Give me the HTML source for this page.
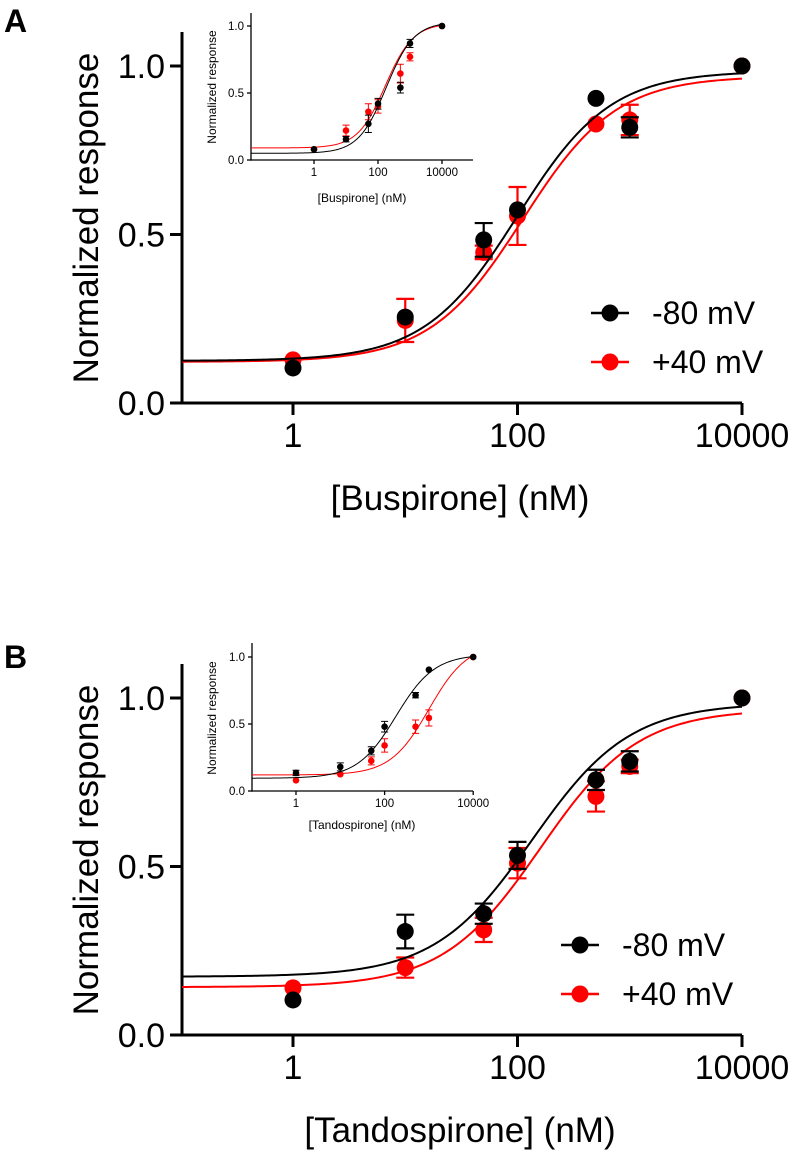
<!DOCTYPE html>
<html><head><meta charset="utf-8"><style>
body{margin:0;background:#fff}
svg text{font-family:"Liberation Sans",Arial,sans-serif}
</style></head><body>
<svg id="fig" width="790" height="1152" viewBox="0 0 790 1152" xmlns="http://www.w3.org/2000/svg">
<text x="4" y="32" font-size="32" font-weight="bold">A</text>
<text x="4" y="668" font-size="32" font-weight="bold">B</text>
</svg>
<script>
const conc = [1, 10, 50, 100, 500, 1000, 10000];
const xTickLabels = ["1", "100", "10000"];
const yTickLabels = ["0.0", "0.5", "1.0"];
// Panel A main
const aBlack = [0.104, 0.255, 0.484, 0.573, 0.904, 0.818, 1.0];
const aBlackErr = [0, 0, 0.05, 0, 0, 0.03, 0];
const aRed = [0.128, 0.245, 0.447, 0.555, 0.828, 0.84, 1.0];
const aRedErr = [0, 0.064, 0.02, 0.086, 0, 0.045, 0];
const aBlackFit = [0.125, 0.985, 100, 1.05];
const aRedFit = [0.122, 0.97, 112, 1.05];
// Panel A inset
const aiBlack = [0.08, 0.155, 0.27, 0.42, 0.54, 0.87, 1.0];
const aiBlackErr = [0, 0.02, 0.065, 0.04, 0.04, 0.03, 0];
const aiRed = [0.08, 0.22, 0.36, 0.40, 0.645, 0.77, 1.0];
const aiRedErr = [0, 0.04, 0.06, 0.05, 0.07, 0.03, 0];
const aiBlackFit = [0.05, 1.03, 180, 1];
const aiRedFit = [0.09, 1.02, 170, 1];
// Panel B main
const bBlack = [0.104, 0.307, 0.36, 0.533, 0.757, 0.812, 1.0];
const bBlackErr = [0, 0.05, 0.03, 0.04, 0.03, 0.03, 0];
const bRed = [0.14, 0.2, 0.312, 0.51, 0.708, 0.797, 1.0];
const bRedErr = [0, 0.03, 0.036, 0.045, 0.045, 0.02, 0];
const bBlackFit = [0.173, 0.985, 135, 1];
const bRedFit = [0.142, 0.967, 160, 1];
// Panel B inset
const biBlack = [0.135, 0.18, 0.30, 0.48, 0.715, 0.905, 1.0];
const biBlackErr = [0.02, 0.03, 0.03, 0.04, 0.02, 0, 0];
const biRed = [0.08, 0.125, 0.225, 0.34, 0.48, 0.545, 1.0];
const biRedErr = [0, 0, 0.03, 0.05, 0.05, 0.06, 0];
const biBlackFit = [0.095, 1.02, 180, 1];
const biRedFit = [0.12, 1.1, 1000, 1];
const tickVals = [0, 2, 4];
const yVals = [0, 0.5, 1];

const NS = "http://www.w3.org/2000/svg";
const svg = document.getElementById('fig');
function mk(tag, attrs, parent, txt){
  const e = document.createElementNS(NS, tag);
  for (const k in attrs) e.setAttribute(k, attrs[k]);
  if (txt !== undefined) e.textContent = txt;
  (parent || svg).appendChild(e);
  return e;
}
function panel(o){
  const g = mk('g', {});
  
  
  const X = v => o.x1 + (Math.log10(v)) * o.dec;
  const XL = l => o.x1 + l * o.dec;
  const Y = v => o.y0 - v * (o.y0 - o.y1);
  const s = o.sc;
  const ya = mk('line', {x1:o.left, y1:o.top, x2:o.left, y2:o.y0 + s.lw/2, stroke:'#000', 'stroke-width':s.lw}, g);
  
  
  const xa = mk('line', {x1:o.left - s.lw/2, y1:o.y0, x2:o.right, y2:o.y0, stroke:'#000', 'stroke-width':s.lw}, g);
  
  
  yVals.forEach((v, i) => {
    mk('line', {x1:o.left - s.tick, y1:Y(v), x2:o.left, y2:Y(v), stroke:'#000', 'stroke-width':s.lw}, g);
    const t = mk('text', {x:o.left - s.tick - s.gap, y:Y(v) + s.tf*0.36, 'font-size':s.tf, 'text-anchor':'end'}, g, yTickLabels[i]);
    
    
  });
  tickVals.forEach((l, i) => {
    mk('line', {x1:XL(l), y1:o.y0, x2:XL(l), y2:o.y0 + s.tick, stroke:'#000', 'stroke-width':s.lw}, g);
    const t = mk('text', {x:XL(l), y:o.y0 + s.tick + s.gap + s.tf*0.8, 'font-size':s.tf, 'text-anchor':'middle'}, g, xTickLabels[i]);
    
    
  });
  const xt = mk('text', {x:o.xtx, y:o.xty, 'font-size':s.af, 'text-anchor':'middle'}, g, o.xtitle);
  
  
  const yt = mk('text', {x:0, y:0, 'font-size':s.af, 'text-anchor':'middle', transform:`translate(${o.ytx},${o.yty}) rotate(-90)`}, g, 'Normalized response');
  
  
  const drawOrder = o.series.slice().reverse();
  drawOrder.forEach(sr => {
    const [b, t, e, h] = sr.fit;
    let d = '';
    const lmin = (o.left - o.x1) / o.dec, lmax = 4;
    for (let k = 0; k <= 200; k++){
      const l = lmin + (lmax - lmin) * k / 200;
      const c = Math.pow(10, l);
      const yv = b + (t - b) / (1 + Math.pow(e / c, h));
      d += (k ? 'L' : 'M') + X(c).toFixed(2) + ',' + Y(yv).toFixed(2);
    }
    const p = mk('path', {d:d, fill:'none', stroke:sr.color, 'stroke-width':s.cw}, g);
    
    
    conc.forEach((c, i) => {
      const cx = X(c), cy = Y(sr.vals[i]), er = sr.err[i];
      if (er > 0){
        const eb = mk('path', {d:`M${cx},${Y(sr.vals[i]+er)}L${cx},${Y(sr.vals[i]-er)}M${cx-s.cap},${Y(sr.vals[i]+er)}h${2*s.cap}M${cx-s.cap},${Y(sr.vals[i]-er)}h${2*s.cap}`, stroke:sr.color, 'stroke-width':s.ew, fill:'none'}, g);
        
        
      }
      const m = mk('circle', {cx:cx, cy:cy, r:s.r, fill:sr.color}, g);
      
      
    });
  });
  if (o.legend){
    o.series.forEach((sr, i) => {
      const ly = o.legend.y + i * 49;
      const ll = mk('line', {x1:o.legend.x - 19, y1:ly, x2:o.legend.x + 19, y2:ly, stroke:sr.color, 'stroke-width':2.5}, g);
      
      
      const lm = mk('circle', {cx:o.legend.x, cy:ly, r:8.5, fill:sr.color}, g);
      
      
      const lt = mk('text', {x:o.legend.x + 42, y:ly + 11, 'font-size':32}, g, sr.label);
      
      
    });
  }
}
const big = {lw:3, tick:12, gap:5, tf:34, af:35, cw:2, r:8.5, cap:9, ew:2.2};
const small = {lw:1.3, tick:4, gap:3, tf:11.5, af:12, cw:1, r:3.3, cap:3.5, ew:1};
panel({name:'panel-a-main', x1:293, dec:112.25, y0:403, y1:66, left:182, right:742, top:32,
  xtitle:'[Buspirone] (nM)', xtx:460, xty:510, ytx:98, yty:218, sc:big, legend:{x:610, y:313},
  series:[{key:'minus80', color:'#000', vals:aBlack, err:aBlackErr, fit:aBlackFit, label:'-80 mV'},
          {key:'plus40', color:'#f00', vals:aRed, err:aRedErr, fit:aRedFit, label:'+40 mV'}]});
panel({name:'panel-a-inset', x1:314, dec:32, y0:160, y1:26, left:251, right:473, top:13,
  xtitle:'[Buspirone] (nM)', xtx:362, xty:202, ytx:216, yty:87, sc:small,
  series:[{key:'minus80', color:'#000', vals:aiBlack, err:aiBlackErr, fit:aiBlackFit},
          {key:'plus40', color:'#f00', vals:aiRed, err:aiRedErr, fit:aiRedFit}]});
panel({name:'panel-b-main', x1:293, dec:112.25, y0:1035, y1:698, left:182, right:742, top:664,
  xtitle:'[Tandospirone] (nM)', xtx:460, xty:1142, ytx:98, yty:850, sc:big, legend:{x:580, y:945},
  series:[{key:'minus80', color:'#000', vals:bBlack, err:bBlackErr, fit:bBlackFit, label:'-80 mV'},
          {key:'plus40', color:'#f00', vals:bRed, err:bRedErr, fit:bRedFit, label:'+40 mV'}]});
panel({name:'panel-b-inset', x1:296, dec:44.3, y0:791, y1:657, left:252, right:473, top:643,
  xtitle:'[Tandospirone] (nM)', xtx:362, xty:829, ytx:216, yty:718, sc:small,
  series:[{key:'minus80', color:'#000', vals:biBlack, err:biBlackErr, fit:biBlackFit},
          {key:'plus40', color:'#f00', vals:biRed, err:biRedErr, fit:biRedFit}]});
</script>
</body></html>
